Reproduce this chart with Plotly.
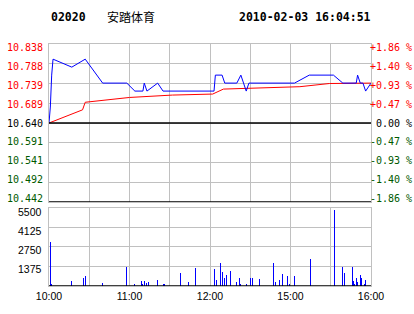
import plotly.graph_objects as go

# ---------------- data ----------------
price_times = ["10:00", "10:01", "10:02", "10:03", "10:17", "10:27", "10:40", "10:58",
               "11:04", "11:10", "11:11", "11:13", "11:21", "11:25", "12:03", "12:04",
               "12:09", "12:11", "12:20", "12:23", "12:27", "12:29", "15:03", "15:14",
               "15:32", "15:39", "15:49", "15:50", "15:52", "15:54", "15:56", "16:00"]
price_values = [10.64, 10.68, 10.76, 10.80, 10.78, 10.80, 10.74, 10.74,
                10.72, 10.72, 10.74, 10.72, 10.74, 10.72, 10.72, 10.76,
                10.76, 10.74, 10.74, 10.76, 10.72, 10.74, 10.74, 10.76,
                10.76, 10.74, 10.74, 10.76, 10.74, 10.74, 10.72, 10.74]

avg_times = ["10:00", "10:25", "10:27", "11:00", "11:32", "12:02", "12:10", "12:25",
             "14:42", "15:07", "15:29", "16:00"]
avg_values = [10.640, 10.673, 10.692, 10.704, 10.710, 10.7125, 10.725, 10.727,
              10.728, 10.731, 10.739, 10.740]

vol_times = ["10:01", "10:02", "10:17", "10:26", "10:27", "10:40", "10:58", "11:04",
             "11:09", "11:10", "11:11", "11:13", "11:14", "11:21", "11:25", "11:26",
             "11:38", "11:44", "11:49", "12:03", "12:05", "12:08", "12:09", "12:11",
             "12:12", "12:15", "12:20", "12:22", "12:23", "12:27", "12:30", "14:32",
             "14:37", "14:47", "14:49", "14:52", "14:54", "14:58", "14:59", "15:03",
             "15:15", "15:33", "15:39", "15:40", "15:46", "15:47", "15:48", "15:49",
             "15:50", "15:52", "15:53", "15:55", "15:56", "16:00"]
vol_values = [3100, 160, 370, 580, 720, 210, 1340, 160,
              370, 160, 370, 210, 300, 440, 160, 160,
              925, 300, 1275, 1200, 440, 1620, 990, 580,
              790, 1060, 300, 580, 160, 160, 580, 580,
              510, 1620, 300, 440, 860, 720, 160, 720,
              1900, 5380, 1340, 925, 1340, 370, 160, 580,
              250, 790, 580, 160, 440, 250]

prev_close = 10.640
price_ticks = [10.838, 10.788, 10.739, 10.689, 10.640, 10.591, 10.541, 10.492, 10.442]
pct_labels = ["+1.86 %", "+1.40 %", "+0.93 %", "+0.47 %", "0.00 %",
              "-0.47 %", "-0.93 %", "-1.40 %", "-1.86 %"]
vol_ticks = [5500, 4125, 2750, 1375]
time_labels = ["10:00", "", "11:00", "", "12:00", "", "15:00", "", "16:00"]

code = "02020"
name = "安踏体育"
stamp = "2010-02-03 16:04:51"


def to_minute(t):
    h, m = map(int, t.split(":"))
    mins = h * 60 + m
    if mins <= 12 * 60 + 30:
        return mins - 600
    return mins - (14 * 60 + 30) + 150


# ---------------- geometry helpers ----------------
W, H = 414, 314
L, R, T, B = 49, 43, 44, 26
PW, PH = W - L - R, H - T - B


def px(x):
    return (x - L) / PW


def py(y):
    return (H - B - y) / PH


GRID = "#c0c0c0"
RED = "#ff0000"
GREEN = "#005a00"
MONO = "DejaVu Sans Mono"

fig = go.Figure()

fig.add_trace(go.Scatter(x=[to_minute(t) for t in avg_times], y=avg_values,
                         mode="lines", line=dict(color=RED, width=1),
                         xaxis="x", yaxis="y", hoverinfo="skip"))
fig.add_trace(go.Scatter(x=[to_minute(t) for t in price_times], y=price_values,
                         mode="lines", line=dict(color="#0000ff", width=1),
                         xaxis="x", yaxis="y", hoverinfo="skip"))
fig.add_trace(go.Bar(x=[to_minute(t) for t in vol_times], y=vol_values,
                     width=0.75, marker=dict(color="#0000ff", line=dict(width=0)),
                     xaxis="x2", yaxis="y2", hoverinfo="skip"))

grid_x = list(range(0, 241, 30))
axis_common = dict(showgrid=True, gridcolor=GRID, gridwidth=1, zeroline=False,
                   showline=True, linecolor=GRID, linewidth=1, mirror=True,
                   ticks="", fixedrange=True)

fig.update_layout(
    width=W, height=H,
    margin=dict(l=L, r=R, t=T, b=B, pad=0),
    paper_bgcolor="white", plot_bgcolor="white",
    showlegend=False, bargap=0,
    xaxis=dict(domain=[0, 1], range=[0, 240], anchor="y", tickmode="array",
               tickvals=grid_x, showticklabels=False, **axis_common),
    yaxis=dict(domain=[py(203.3), 1], range=[10.442, 10.838], tickmode="array",
               tickvals=price_ticks, showticklabels=False, **axis_common),
    xaxis2=dict(domain=[0, 1], range=[0, 240], anchor="y2", tickmode="array",
                tickvals=grid_x, ticktext=time_labels, showticklabels=True,
                tickfont=dict(family="Liberation Sans", size=10.5, color="black"),
                **axis_common),
    yaxis2=dict(domain=[0, py(209.3)], range=[0, 5500], tickmode="array",
                tickvals=vol_ticks, showticklabels=False, **axis_common),
)

# black reference lines
fig.add_shape(type="line", xref="paper", yref="y", x0=0, x1=1, y0=prev_close, y1=prev_close,
              line=dict(color="black", width=1.5))
fig.add_shape(type="line", xref="paper", yref="y", x0=0, x1=1, y0=10.442, y1=10.442,
              line=dict(color="black", width=1.5))
fig.add_shape(type="line", xref="paper", yref="y2", x0=0, x1=1, y0=0, y1=0,
              line=dict(color="black", width=1.5))

ann = []
for i, (v, pl) in enumerate(zip(price_ticks, pct_labels)):
    yc = 47.7 + 19 * i
    col = RED if v > prev_close else ("black" if v == prev_close else GREEN)
    ann.append(dict(text=f"{v:.3f}", x=px(45), y=py(yc), xref="paper", yref="paper",
                    xanchor="right", yanchor="middle", showarrow=False,
                    font=dict(family=MONO, size=10, color=col)))
    ann.append(dict(text=pl, x=px(414), y=py(yc), xref="paper", yref="paper",
                    xanchor="right", yanchor="middle", showarrow=False,
                    font=dict(family=MONO, size=10, color=col)))
for i, v in enumerate(vol_ticks):
    yc = 213.5 + 19 * i
    ann.append(dict(text=str(v), x=px(44), y=py(yc), xref="paper", yref="paper",
                    xanchor="right", yanchor="middle", showarrow=False,
                    font=dict(family="Liberation Sans", size=10.5, color="black")))

ann.append(dict(text=f"<b>{code}</b>", x=px(49), y=py(17), xref="paper", yref="paper",
                xanchor="left", yanchor="middle", showarrow=False,
                font=dict(family=MONO, size=11.5, color="black")))
ann.append(dict(text=name, x=px(105), y=py(16.5), xref="paper", yref="paper",
                xanchor="left", yanchor="middle", showarrow=False,
                font=dict(family="Noto Sans CJK SC", size=12, color="black")))
ann.append(dict(text=f"<b>{stamp}</b>", x=px(237), y=py(17), xref="paper", yref="paper",
                xanchor="left", yanchor="middle", showarrow=False,
                font=dict(family=MONO, size=11.5, color="black")))
fig.update_layout(annotations=ann)

fig.write_html("out.html", config={"displayModeBar": False, "staticPlot": True})
